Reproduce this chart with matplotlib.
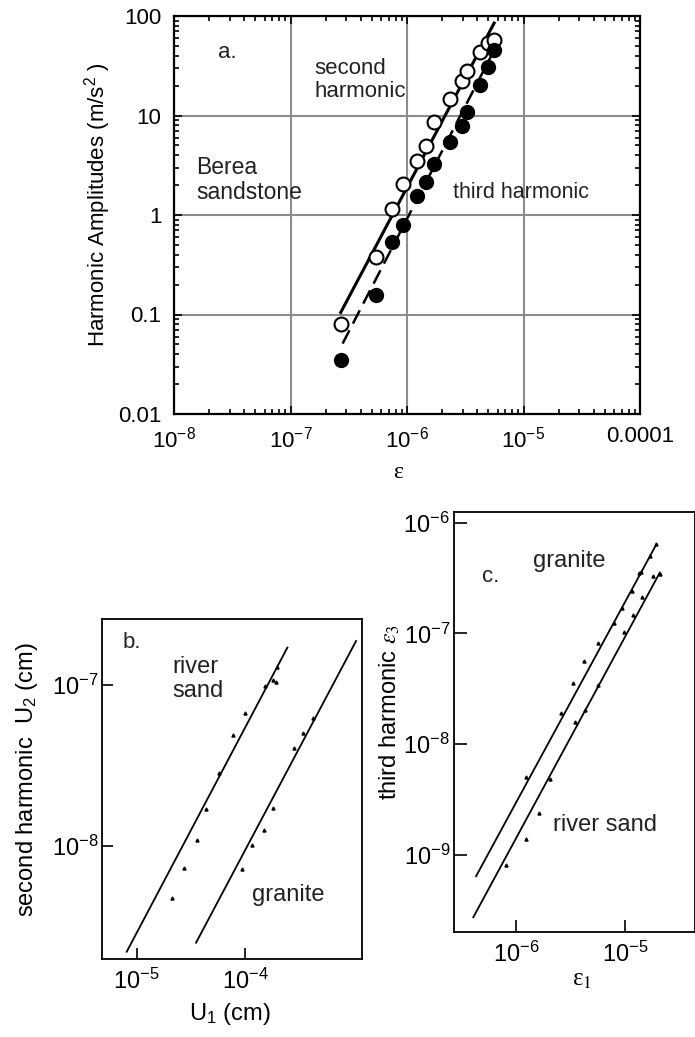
import matplotlib
matplotlib.use("Agg")
import matplotlib.pyplot as plt
from matplotlib.ticker import FixedLocator, FixedFormatter, LogLocator, NullLocator

plt.rcParams["font.family"] = ["Liberation Sans", "DejaVu Sans"]
plt.rcParams["mathtext.fontset"] = "stix"

W, H = 695, 1037

# panel a: Berea sandstone
second_eps = [2.7e-7, 5.4e-7, 7.5e-7, 9.2e-7, 1.23e-6, 1.46e-6, 1.72e-6,
              2.36e-6, 2.97e-6, 3.28e-6, 4.27e-6, 5.0e-6, 5.6e-6]
second_amp = [0.08, 0.38, 1.16, 2.03, 3.47, 4.94, 8.6, 14.5, 22.1, 28.1,
              43.7, 54, 57]
third_eps = [2.7e-7, 5.4e-7, 7.5e-7, 9.3e-7, 1.23e-6, 1.46e-6, 1.72e-6,
             2.36e-6, 2.97e-6, 3.3e-6, 4.27e-6, 5.0e-6, 5.6e-6]
third_amp = [0.035, 0.157, 0.54, 0.8, 1.57, 2.14, 3.29, 5.4, 7.8, 10.9,
             20.2, 31, 45.5]
second_fit_eps = [2.7e-7, 5.6e-6]
second_fit_amp = [0.105, 85]
third_fit_eps = [2.8e-7, 5.9e-6]
third_fit_amp = [0.051, 51]

# panel b: second harmonic U2 vs U1
b_sand_u1 = [2.1e-5, 2.75e-5, 3.58e-5, 4.36e-5, 5.8e-5, 7.8e-5, 1.0e-4,
             1.53e-4, 1.8e-4, 1.93e-4, 1.96e-4]
b_sand_u2 = [4.73e-9, 7.3e-9, 1.09e-8, 1.69e-8, 2.85e-8, 4.89e-8, 6.73e-8,
             9.86e-8, 1.07e-7, 1.05e-7, 1.29e-7]
b_gran_u1 = [9.4e-5, 1.15e-4, 1.51e-4, 1.8e-4, 2.85e-4, 3.45e-4, 4.2e-4]
b_gran_u2 = [7.17e-9, 1.01e-8, 1.26e-8, 1.71e-8, 4.08e-8, 5.06e-8, 6.2e-8]
b_sand_fit_u1 = [10 ** -5.092, 10 ** -3.609]
b_sand_fit_u2 = [10 ** -8.657, 10 ** -6.768]
b_gran_fit_u1 = [10 ** -4.452, 10 ** -2.975]
b_gran_fit_u2 = [10 ** -8.601, 10 ** -6.727]

# panel c: third harmonic eps3 vs eps1
c_gran_e1 = [1.24e-6, 2.57e-6, 3.31e-6, 4.14e-6, 5.57e-6, 7.8e-6, 9.33e-6,
             1.15e-5, 1.33e-5, 1.39e-5, 1.67e-5, 1.92e-5]
c_gran_e3 = [5.0e-9, 1.9e-8, 3.54e-8, 5.6e-8, 8.1e-8, 1.23e-7, 1.70e-7,
             2.41e-7, 3.53e-7, 3.6e-7, 4.99e-7, 6.37e-7]
c_sand_e1 = [8.05e-7, 1.23e-6, 1.63e-6, 2.05e-6, 3.48e-6, 4.3e-6, 5.62e-6,
             9.66e-6, 1.18e-5, 1.42e-5, 1.79e-5, 2.06e-5]
c_sand_e3 = [8.1e-10, 1.4e-9, 2.4e-9, 4.83e-9, 1.57e-8, 2.05e-8, 3.45e-8,
             1.03e-7, 1.45e-7, 2.14e-7, 3.29e-7, 3.47e-7]
c_gran_fit_e1 = [10 ** -6.367, 10 ** -4.716]
c_gran_fit_e3 = [10 ** -9.193, 10 ** -6.196]
c_sand_fit_e1 = [10 ** -6.392, 10 ** -4.685]
c_sand_fit_e3 = [10 ** -9.563, 10 ** -6.452]

a_xticks = [1e-8, 1e-7, 1e-6, 1e-5, 1e-4]
a_xlabels = [r"$\mathregular{10^{-8}}$", r"$\mathregular{10^{-7}}$",
             r"$\mathregular{10^{-6}}$", r"$\mathregular{10^{-5}}$", "0.0001"]
a_yticks = [0.01, 0.1, 1, 10, 100]
a_ylabels = ["0.01", "0.1", "1", "10", "100"]


def box(left, top, right, bottom):
    return [left / W, 1 - bottom / H, (right - left) / W, (bottom - top) / H]


def ftext(x, y, s, **kw):
    fig.text(x / W, 1 - y / H, s, **kw)


def sci(e):
    return r"$\mathregular{10^{%d}}$" % e


fig = plt.figure(figsize=(W / 100, H / 100), dpi=100)

# ---- panel a ----
ax = fig.add_axes(box(174, 16, 640, 414))
ax.set_xscale("log")
ax.set_yscale("log")
ax.set_xlim(1e-8, 1e-4)
ax.set_ylim(0.01, 100)
ax.plot(second_fit_eps, second_fit_amp, color="black", lw=2.2, zorder=3)
ax.plot(third_fit_eps, third_fit_amp, color="black", lw=1.8,
        dashes=(6, 3), zorder=3)
ax.plot(second_eps, second_amp, "o", ms=10, mfc="white", mec="black",
        mew=1.5, zorder=4)
ax.plot(third_eps, third_amp, "o", ms=10, mfc="black", mec="black",
        zorder=4)
ax.xaxis.set_major_locator(FixedLocator(a_xticks))
ax.xaxis.set_major_formatter(FixedFormatter(a_xlabels))
ax.yaxis.set_major_locator(FixedLocator(a_yticks))
ax.yaxis.set_major_formatter(FixedFormatter(a_ylabels))
ax.xaxis.set_minor_locator(LogLocator(base=10, subs=range(2, 10), numticks=20))
ax.yaxis.set_minor_locator(LogLocator(base=10, subs=range(2, 10), numticks=20))
ax.grid(True, which="major", color="#8c8c8c", lw=1.5)
ax.set_axisbelow(True)
ax.tick_params(which="both", direction="in", top=True, right=True,
               labelsize=16, width=1.2)
ax.tick_params(which="major", length=6, pad=9)
ax.tick_params(which="minor", length=3.5)
for sp in ax.spines.values():
    sp.set_linewidth(1.6)
ftext(218, 53, "a.", fontsize=16, ha="left", va="center", color="#222222")
ftext(314, 80, "second\nharmonic", fontsize=16, ha="left", va="center",
      color="#222222", linespacing=1.15)
ftext(196, 180, "Berea\nsandstone", fontsize=16.5, ha="left", va="center",
      color="#222222", linespacing=1.15)
ftext(453, 192, "third harmonic", fontsize=15.5, ha="left", va="center",
      color="#222222")
ftext(98, 205, r"Harmonic Amplitudes (m/s$\mathregular{^2}$ )", fontsize=16,
      rotation=90, ha="center", va="center")
ftext(398, 472, "ε", fontsize=17, ha="center", va="center",
      family=["Liberation Serif", "DejaVu Serif"])

# ---- panel b ----
bx = fig.add_axes(box(101.7, 619.3, 362, 959.3))
bx.set_xscale("log")
bx.set_yscale("log")
bx.set_xlim(10 ** -5.323, 10 ** -2.92)
bx.set_ylim(10 ** -8.704, 10 ** -6.592)
bx.plot(b_sand_fit_u1, b_sand_fit_u2, color="black", lw=1.3)
bx.plot(b_gran_fit_u1, b_gran_fit_u2, color="black", lw=1.3)
bx.plot(b_sand_u1, b_sand_u2, "^", ms=2.2, color="black")
bx.plot(b_gran_u1, b_gran_u2, "^", ms=2.2, color="black")
bx.xaxis.set_major_locator(FixedLocator([1e-5, 1e-4]))
bx.xaxis.set_major_formatter(FixedFormatter([sci(-5), sci(-4)]))
bx.yaxis.set_major_locator(FixedLocator([1e-8, 1e-7]))
bx.yaxis.set_major_formatter(FixedFormatter([sci(-8), sci(-7)]))
bx.xaxis.set_minor_locator(NullLocator())
bx.yaxis.set_minor_locator(NullLocator())
bx.tick_params(direction="in", length=8, width=1.2, labelsize=17)
bx.tick_params(axis="y", pad=2)
bx.tick_params(axis="x", pad=7)
for sp in bx.spines.values():
    sp.set_linewidth(1.3)
ftext(123, 642, "b.", fontsize=16, ha="left", va="center", color="#222222")
ftext(172, 679, "river\nsand", fontsize=17, ha="left", va="center",
      color="#222222", linespacing=1.15)
ftext(252, 895, "granite", fontsize=17, ha="left", va="center",
      color="#222222")
ftext(27, 780, r"second harmonic  U$\mathregular{_2}$ (cm)", fontsize=17,
      rotation=90, ha="center", va="center")
ftext(230, 1014, r"U$\mathregular{_1}$ (cm)", fontsize=17, ha="center",
      va="center")

# ---- panel c ----
cx = fig.add_axes(box(454.3, 512.3, 694.5, 932.3))
cx.set_xscale("log")
cx.set_yscale("log")
cx.set_xlim(10 ** -6.566, 10 ** -4.367)
cx.set_ylim(10 ** -9.699, 10 ** -5.907)
cx.plot(c_gran_fit_e1, c_gran_fit_e3, color="black", lw=1.3)
cx.plot(c_sand_fit_e1, c_sand_fit_e3, color="black", lw=1.3)
cx.plot(c_gran_e1, c_gran_e3, "^", ms=2.2, color="black")
cx.plot(c_sand_e1, c_sand_e3, "^", ms=2.2, color="black")
cx.xaxis.set_major_locator(FixedLocator([1e-6, 1e-5]))
cx.xaxis.set_major_formatter(FixedFormatter([sci(-6), sci(-5)]))
cx.yaxis.set_major_locator(FixedLocator([1e-9, 1e-8, 1e-7, 1e-6]))
cx.yaxis.set_major_formatter(FixedFormatter([sci(-9), sci(-8), sci(-7),
                                             sci(-6)]))
cx.xaxis.set_minor_locator(NullLocator())
cx.yaxis.set_minor_locator(NullLocator())
cx.tick_params(direction="in", length=9, width=1.2, labelsize=17)
cx.tick_params(axis="y", pad=3)
cx.tick_params(axis="x", pad=7)
for sp in cx.spines.values():
    sp.set_linewidth(1.3)
ftext(482, 577, "c.", fontsize=16, ha="left", va="center", color="#222222")
ftext(533, 561, "granite", fontsize=17, ha="left", va="center",
      color="#222222")
ftext(553, 825, "river sand", fontsize=17, ha="left", va="center",
      color="#222222")
ftext(390, 712, r"third harmonic $\varepsilon_3$", fontsize=17,
      rotation=90, ha="center", va="center")
ftext(582, 980, r"ε$_1$", fontsize=18, ha="center", va="center",
      family=["Liberation Serif", "DejaVu Serif"])

fig.savefig("out.png", dpi=100)
